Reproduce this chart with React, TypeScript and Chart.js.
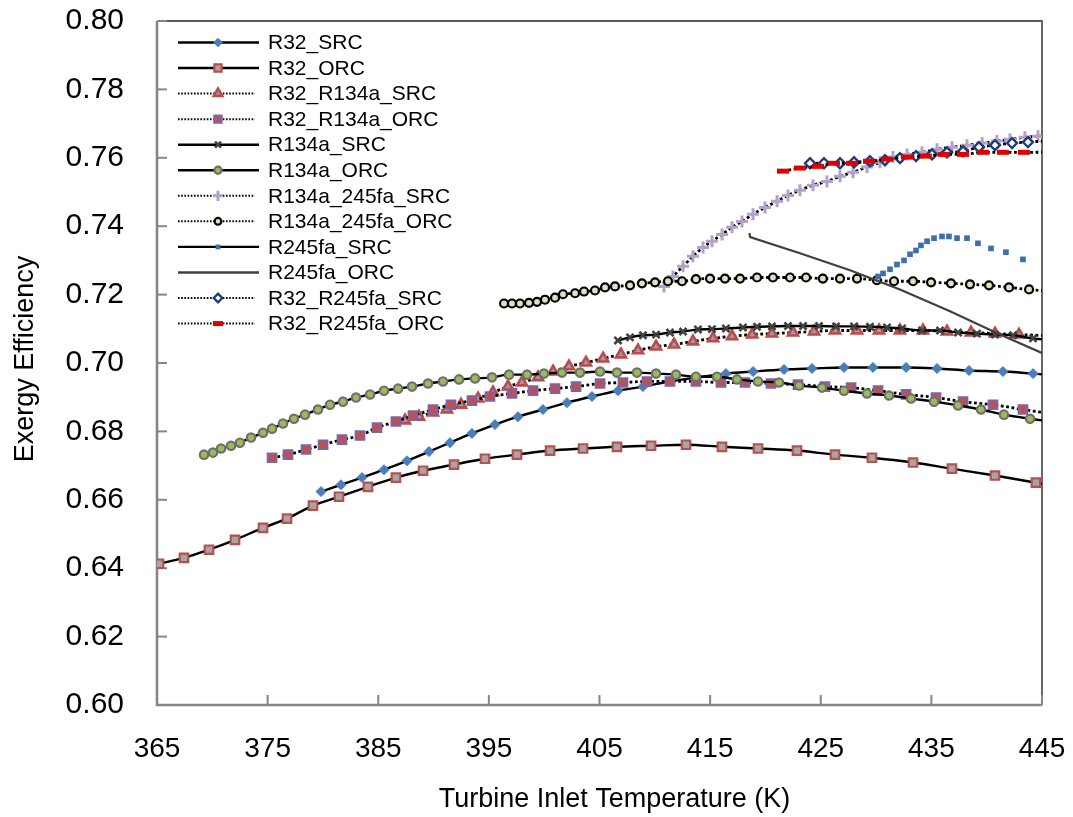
import React, { useEffect, useRef } from 'react';
import { Chart, registerables, PointElement } from 'chart.js';

Chart.register(...registerables);

// ---------- data (turbine inlet temperature K, exergy efficiency) ----------
const r32SrcT = [379.83, 381.63, 383.53, 385.52, 387.6, 389.59, 391.49, 393.47, 395.55, 397.63, 399.89, 402.06, 404.32, 406.67, 408.93, 411.37, 413.81, 416.43, 418.88, 421.68, 424.21, 427.1, 429.72, 432.71, 435.51, 438.4, 441.47, 444.19, 446.5];
const r32SrcEff = [0.6624, 0.6644, 0.6665, 0.6688, 0.6714, 0.6741, 0.6767, 0.6794, 0.682, 0.6843, 0.6864, 0.6884, 0.6902, 0.6919, 0.6931, 0.6946, 0.6958, 0.6969, 0.6975, 0.6981, 0.6984, 0.6987, 0.6987, 0.6987, 0.6984, 0.6978, 0.6975, 0.6969, 0.6962];

const r32OrcT = [365.18, 367.44, 369.7, 372.05, 374.58, 376.75, 379.1, 381.45, 384.07, 386.6, 389.05, 391.85, 394.65, 397.54, 400.53, 403.51, 406.58, 409.66, 412.82, 416.07, 419.33, 422.85, 426.29, 429.63, 433.34, 436.86, 440.75, 444.45, 446.5];
const r32OrcEff = [0.6413, 0.643, 0.6454, 0.6483, 0.6518, 0.6545, 0.6583, 0.6609, 0.6638, 0.6665, 0.6685, 0.6703, 0.672, 0.6732, 0.6744, 0.675, 0.6755, 0.6758, 0.6761, 0.6755, 0.675, 0.6744, 0.6732, 0.6723, 0.6709, 0.6691, 0.6671, 0.665, 0.6638];

const r32R134aSrcT = [387.42, 388.68, 389.95, 391.21, 392.48, 394.02, 395.37, 396.73, 397.99, 399.44, 400.8, 402.24, 403.78, 405.32, 406.94, 408.48, 410.11, 411.73, 413.45, 415.26, 416.98, 418.79, 420.59, 422.49, 424.39, 426.29, 428.28, 430.27, 432.16, 434.24, 436.41, 438.58, 440.75, 442.92, 446.5];
const r32R134aSrcEff = [0.6832, 0.6843, 0.6855, 0.6864, 0.6878, 0.6896, 0.6914, 0.6931, 0.6943, 0.6958, 0.6975, 0.699, 0.7001, 0.7013, 0.7025, 0.7037, 0.7048, 0.7054, 0.7063, 0.7072, 0.7078, 0.7083, 0.7086, 0.7089, 0.7092, 0.7095, 0.7095, 0.7095, 0.7095, 0.7095, 0.7092, 0.7089, 0.7086, 0.7083, 0.7079];

const r32R134aOrcT = [375.4, 376.84, 378.47, 380.01, 381.72, 383.35, 384.89, 386.6, 388.14, 389.95, 391.58, 393.47, 395.1, 397.09, 398.99, 400.98, 402.88, 405.05, 407.12, 409.29, 411.37, 413.72, 415.98, 418.15, 420.5, 422.94, 425.38, 427.74, 430.18, 432.71, 435.42, 437.86, 440.57, 443.28, 446.5];
const r32R134aOrcEff = [0.6723, 0.6732, 0.6747, 0.6761, 0.6776, 0.6788, 0.6811, 0.6829, 0.6846, 0.6864, 0.6878, 0.689, 0.6902, 0.6911, 0.6919, 0.6925, 0.6931, 0.694, 0.6943, 0.6946, 0.6946, 0.6946, 0.6943, 0.6943, 0.694, 0.6937, 0.6931, 0.6928, 0.6919, 0.6908, 0.6899, 0.6887, 0.6878, 0.6864, 0.6848];

const r134aSrcT = [406.67, 407.76, 408.93, 410.11, 411.37, 412.55, 413.9, 415.17, 416.43, 417.97, 419.24, 420.59, 422.04, 423.4, 424.84, 426.38, 428.01, 429.45, 430.99, 432.35, 434.15, 435.78, 437.41, 439.12, 440.75, 442.38, 444.19, 446.5];
const r134aSrcEff = [0.7066, 0.7075, 0.7081, 0.7083, 0.7089, 0.7092, 0.7098, 0.7099, 0.7101, 0.7104, 0.7106, 0.7107, 0.7108, 0.7108, 0.7108, 0.7107, 0.7107, 0.7106, 0.7104, 0.7101, 0.7095, 0.7095, 0.7089, 0.7086, 0.7083, 0.7081, 0.7072, 0.7065];

const r134aOrcT = [369.25, 370.06, 370.79, 371.69, 372.5, 373.5, 374.58, 375.4, 376.39, 377.38, 378.38, 379.55, 380.64, 381.81, 382.99, 384.26, 385.52, 386.79, 388.05, 389.5, 390.85, 392.3, 393.75, 395.28, 396.82, 398.45, 399.98, 401.61, 403.24, 405.05, 406.58, 408.39, 410.11, 411.92, 413.72, 415.62, 417.43, 419.33, 421.23, 423.03, 425.11, 427.1, 429.18, 431.17, 433.16, 435.24, 437.41, 439.49, 441.56, 443.92, 446.5];
const r134aOrcEff = [0.6732, 0.6738, 0.675, 0.6758, 0.6767, 0.6782, 0.6796, 0.6808, 0.6823, 0.6837, 0.6849, 0.6864, 0.6878, 0.6887, 0.6899, 0.6908, 0.6919, 0.6925, 0.6931, 0.694, 0.6946, 0.6952, 0.6955, 0.6958, 0.6966, 0.6966, 0.6969, 0.6972, 0.6972, 0.6975, 0.6972, 0.6972, 0.6969, 0.6966, 0.696, 0.696, 0.6952, 0.6946, 0.6943, 0.6934, 0.6928, 0.6919, 0.6911, 0.6905, 0.6896, 0.6887, 0.6876, 0.6864, 0.6849, 0.6837, 0.6826];

const r134a245faSrcT = [410.83, 411.64, 412.55, 413.45, 414.36, 415.17, 416.08, 416.98, 417.88, 418.88, 419.96, 421.05, 422.04, 423.12, 424.3, 425.56, 426.74, 427.92, 429.18, 430.36, 431.53, 432.8, 434.15, 435.51, 436.87, 438.22, 439.58, 440.93, 442.11, 443.46, 444.64, 446.5];
const r134a245faSrcEff = [0.7224, 0.7253, 0.7283, 0.7312, 0.7338, 0.7356, 0.7376, 0.7397, 0.7414, 0.7435, 0.7455, 0.7473, 0.749, 0.7505, 0.752, 0.7531, 0.7546, 0.7558, 0.7573, 0.7587, 0.7602, 0.761, 0.7616, 0.7625, 0.7631, 0.7637, 0.7643, 0.7649, 0.7654, 0.766, 0.7663, 0.7667];

const r134a245faOrcT = [396.37, 397.09, 397.81, 398.63, 399.35, 400.07, 400.98, 401.7, 402.79, 403.6, 404.59, 405.5, 406.4, 407.76, 408.84, 410.02, 411.19, 412.46, 413.72, 414.99, 416.34, 417.7, 419.24, 420.68, 422.22, 423.67, 425.19, 426.74, 428.28, 430.08, 431.62, 433.34, 434.97, 436.77, 438.49, 440.21, 442.02, 443.83, 446.5];
const r134a245faOrcEff = [0.7174, 0.7174, 0.7174, 0.7176, 0.7179, 0.7185, 0.7191, 0.7201, 0.7204, 0.7209, 0.7212, 0.7221, 0.7224, 0.7227, 0.7233, 0.7236, 0.7239, 0.7239, 0.7245, 0.7247, 0.7247, 0.7247, 0.725, 0.725, 0.725, 0.725, 0.7247, 0.7247, 0.7247, 0.7242, 0.7239, 0.7239, 0.7236, 0.7233, 0.723, 0.7227, 0.7221, 0.7215, 0.7208];

const r245faSrcT = [430.18, 430.63, 431.26, 431.89, 432.53, 433.07, 433.61, 434.06, 434.61, 435.24, 435.96, 436.59, 437.32, 438.22, 439.21, 440.39, 441.74, 443.28];
const r245faSrcEff = [0.7253, 0.7262, 0.7274, 0.7288, 0.73, 0.7318, 0.7329, 0.7344, 0.7356, 0.7365, 0.737, 0.737, 0.7365, 0.7365, 0.735, 0.7335, 0.7324, 0.7303];

const r245faOrcT = [418.55, 418.62, 423.12, 427.65, 432.16, 436.68, 441.2, 445.09, 446.5];
const r245faOrcEff = [0.738, 0.7368, 0.7321, 0.7271, 0.7215, 0.7151, 0.7083, 0.7028, 0.7005];

const r32R245faSrcT = [424.03, 425.29, 426.74, 428.01, 429.45, 430.81, 432.16, 433.61, 435.06, 436.41, 437.86, 439.3, 440.75, 442.29, 443.73, 446.5];
const r32R245faSrcEff = [0.7584, 0.7584, 0.7584, 0.7587, 0.759, 0.7593, 0.7599, 0.7605, 0.761, 0.7616, 0.7619, 0.7631, 0.7637, 0.7643, 0.7646, 0.7651];

const r32R245faOrcT = [421.59, 423.12, 424.75, 426.2, 427.83, 429.36, 430.99, 432.8, 434.51, 436.14, 437.86, 439.67, 441.47, 443.37, 446.5];
const r32R245faOrcEff = [0.7561, 0.757, 0.7575, 0.7584, 0.7584, 0.759, 0.7596, 0.7602, 0.7605, 0.761, 0.761, 0.7616, 0.7616, 0.7616, 0.7617];

const seriesLabels = [
  'R32_SRC', 'R32_ORC', 'R32_R134a_SRC', 'R32_R134a_ORC', 'R134a_SRC', 'R134a_ORC',
  'R134a_245fa_SRC', 'R134a_245fa_ORC', 'R245fa_SRC', 'R245fa_ORC', 'R32_R245fa_SRC', 'R32_R245fa_ORC',
];
const seriesT = [r32SrcT, r32OrcT, r32R134aSrcT, r32R134aOrcT, r134aSrcT, r134aOrcT, r134a245faSrcT, r134a245faOrcT, r245faSrcT, r245faOrcT, r32R245faSrcT, r32R245faOrcT];
const seriesEff = [r32SrcEff, r32OrcEff, r32R134aSrcEff, r32R134aOrcEff, r134aSrcEff, r134aOrcEff, r134a245faSrcEff, r134a245faOrcEff, r245faSrcEff, r245faOrcEff, r32R245faSrcEff, r32R245faOrcEff];

const xTickMin = 365;
const xTickMax = 445;
const xTickStep = 10;
const yTickMin = 0.6;
const yTickMax = 0.8;
const yTickStep = 0.02;

const xTitle = 'Turbine Inlet Temperature (K)';
const yTitle = 'Exergy Efficiency';

// ---------- styles ----------
const FONT = '"Liberation Sans", Arial, sans-serif';
const DOT = [2.8, 2.6];
type Sty = { line: string; lw: number; dash: number[]; show: boolean; straight?: boolean; ps: any; r: number; bg: string; bc: string; bw: number };
const styles: Sty[] = [
  { line: '#000', lw: 2.4, dash: [], show: true, ps: 'rectRot', r: 5, bg: '#4A7EBB', bc: '#4A7EBB', bw: 1 },
  { line: '#000', lw: 2.4, dash: [], show: true, ps: 'rect', r: 6, bg: '#A6A6A6', bc: '#B9504D', bw: 2.2 },
  { line: '#000', lw: 2.8, dash: DOT, show: true, ps: 'triangle', r: 5.8, bg: '#8C9FBE', bc: '#BE4B48', bw: 2.6 },
  { line: '#000', lw: 2.8, dash: DOT, show: true, ps: 'rect', r: 6, bg: '#C0504D', bc: '#8064A2', bw: 2.2 },
  { line: '#000', lw: 2.4, dash: [], show: true, ps: 'crossRot', r: 5, bg: '#404040', bc: '#404040', bw: 2.6 },
  { line: '#000', lw: 2.4, dash: [], show: true, ps: 'circle', r: 4.2, bg: '#9BBB59', bc: '#6F6F6F', bw: 2.2 },
  { line: '#000', lw: 2.8, dash: DOT, show: true, ps: 'cross', r: 6, bg: '#B3A2C7', bc: '#B3A2C7', bw: 3 },
  { line: '#000', lw: 2.8, dash: DOT, show: true, ps: 'circle', r: 4, bg: '#D7E4BD', bc: '#000000', bw: 2.2 },
  { line: '#000', lw: 2.4, dash: [], show: false, ps: 'rect', r: 4, bg: '#3F6FAA', bc: '#3F6FAA', bw: 0 },
  { line: '#404040', lw: 2.2, dash: [], show: true, straight: true, ps: 'circle', r: 0, bg: '#404040', bc: '#404040', bw: 0 },
  { line: '#000', lw: 2.8, dash: DOT, show: true, ps: 'rectRot', r: 5, bg: '#FFFFFF', bc: '#1F3C78', bw: 2.4 },
  { line: '#000', lw: 2.8, dash: DOT, show: true, ps: 'line', r: 6, bg: '#E00000', bc: '#E00000', bw: 5 },
];

const framePlugin = {
  id: 'frame',
  beforeDatasetsDraw(chart: any) {
    const { ctx, chartArea: a, scales } = chart;
    ctx.save();
    ctx.strokeStyle = '#595959';
    ctx.lineWidth = 1.8;
    ctx.beginPath();
    ctx.moveTo(a.left, a.top);
    ctx.lineTo(a.right, a.top);
    ctx.lineTo(a.right, a.bottom);
    ctx.stroke();
    ctx.strokeStyle = '#868686';
    ctx.lineWidth = 2.6;
    ctx.beginPath();
    ctx.moveTo(a.left, a.top);
    ctx.lineTo(a.left, a.bottom);
    ctx.lineTo(a.right, a.bottom);
    ctx.stroke();
    ctx.lineWidth = 2;
    scales.y.ticks.forEach((t: any) => {
      const y = scales.y.getPixelForValue(t.value);
      ctx.beginPath();
      ctx.moveTo(a.left, y);
      ctx.lineTo(a.left + 10, y);
      ctx.stroke();
    });
    scales.x.ticks.forEach((t: any) => {
      const x = scales.x.getPixelForValue(t.value);
      ctx.beginPath();
      ctx.moveTo(x, a.bottom);
      ctx.lineTo(x, a.bottom - 10);
      ctx.stroke();
    });
    ctx.restore();
  },
};

const titlePlugin = {
  id: 'axisTitles',
  afterDraw(chart: any) {
    const { ctx, chartArea: a } = chart;
    ctx.save();
    ctx.fillStyle = '#000';
    ctx.font = `27px ${FONT}`;
    ctx.textAlign = 'center';
    ctx.textBaseline = 'alphabetic';
    ctx.fillText(xTitle, (a.left + a.right) / 2 + 15, 807);
    ctx.translate(33, (a.top + a.bottom) / 2 - 4);
    ctx.rotate(-Math.PI / 2);
    ctx.fillText(yTitle, 0, 0);
    ctx.restore();
  },
};

const legendPlugin = {
  id: 'customLegend',
  afterDraw(chart: any) {
    const ctx = chart.ctx;
    ctx.save();
    seriesLabels.forEach((label, i) => {
      const s = styles[i];
      const y = 42.5 + i * 25.55;
      const dotted = s.dash.length > 0;
      ctx.beginPath();
      ctx.setLineDash(dotted ? [1.6, 1.6] : []);
      ctx.lineWidth = dotted ? 2 : 2.4;
      ctx.strokeStyle = s.line;
      ctx.moveTo(178, y);
      ctx.lineTo(dotted ? 255 : 259, y);
      ctx.stroke();
      ctx.setLineDash([]);
      if (s.r > 0) {
        const p: any = new (PointElement as any)({
          x: 218,
          y,
          options: { radius: s.r * 0.85, pointStyle: s.ps, rotation: 0, borderWidth: s.bw, borderColor: s.bc, backgroundColor: s.bg },
        });
        p.draw(ctx, { left: 0, top: 0, right: 5000, bottom: 5000 });
      }
      ctx.fillStyle = '#000';
      ctx.font = `21px ${FONT}`;
      ctx.textAlign = 'left';
      ctx.textBaseline = 'middle';
      ctx.fillText(label, 268, y + 1);
    });
    ctx.restore();
  },
};

export default function App() {
  const ref = useRef<HTMLCanvasElement>(null);
  useEffect(() => {
    const datasets = seriesLabels.map((label, i) => {
      const s = styles[i];
      return {
        label,
        data: seriesT[i].map((t, k) => ({ x: t, y: seriesEff[i][k] })),
        borderColor: s.line,
        borderWidth: s.lw,
        borderDash: s.dash,
        showLine: s.show,
        fill: false,
        tension: s.straight ? 0 : 0.4,
        cubicInterpolationMode: s.straight ? ('default' as const) : ('monotone' as const),
        pointStyle: s.ps,
        pointRadius: s.r,
        pointHoverRadius: s.r,
        pointBackgroundColor: s.bg,
        pointBorderColor: s.bc,
        pointBorderWidth: s.bw,
        order: 11 - i,
      };
    });
    const chart = new Chart(ref.current as HTMLCanvasElement, {
      type: 'line',
      data: { datasets } as any,
      options: {
        responsive: false,
        animation: false,
        devicePixelRatio: 1,
        events: [],
        layout: { padding: { left: 0, top: 21, right: 31, bottom: 0 } },
        plugins: { legend: { display: false }, tooltip: { enabled: false }, title: { display: false } },
        scales: {
          x: {
            type: 'linear',
            min: xTickMin,
            max: xTickMax,
            ticks: { stepSize: xTickStep, font: { family: FONT, size: 28 }, color: '#000', padding: 27, maxRotation: 0, autoSkip: false },
            grid: { display: false, drawTicks: false },
            border: { display: false },
            afterFit: (s: any) => { s.height = 112; s.paddingLeft = 0; s.paddingRight = 0; s.paddingTop = 0; s.paddingBottom = 0; },
          },
          y: {
            type: 'linear',
            min: yTickMin,
            max: yTickMax,
            ticks: { stepSize: yTickStep, font: { family: FONT, size: 30 }, color: '#000', padding: 33, autoSkip: false, callback: (v: any) => Number(v).toFixed(2) },
            grid: { display: false, drawTicks: false },
            border: { display: false },
            afterFit: (s: any) => { s.width = 157; s.paddingLeft = 0; s.paddingRight = 0; s.paddingTop = 0; s.paddingBottom = 0; },
          },
        },
      } as any,
      plugins: [framePlugin, titlePlugin, legendPlugin],
    });
    return () => chart.destroy();
  }, []);
  return (
    <div style={{ position: 'absolute', left: 0, top: 0, width: 1073, height: 817, background: '#fff' }}>
      <canvas ref={ref} width={1073} height={817} style={{ width: 1073, height: 817, display: 'block' }} />
    </div>
  );
}
